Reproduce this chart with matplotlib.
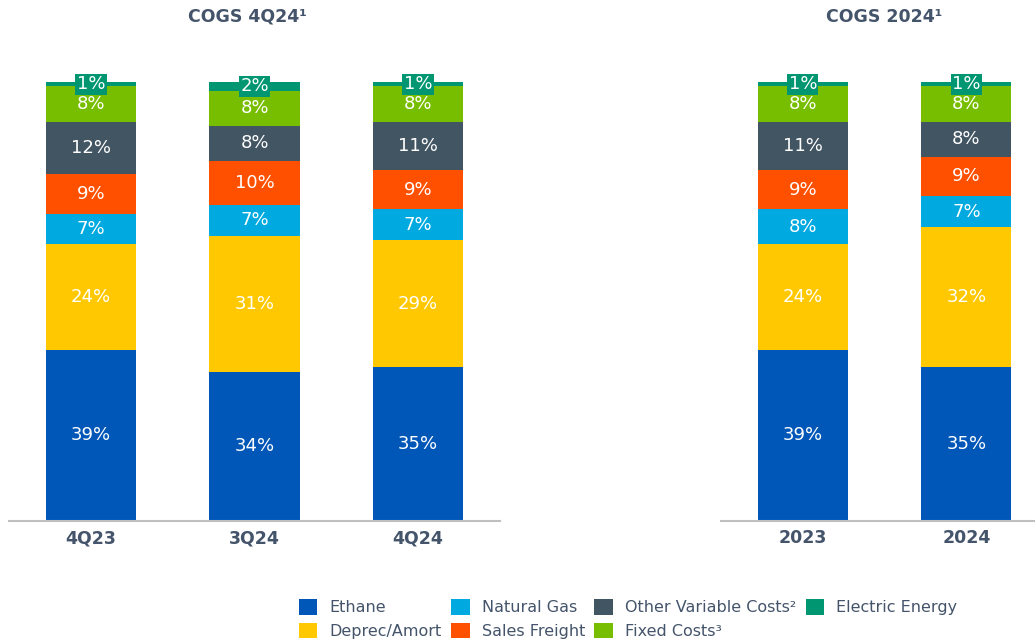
import numpy as np
import matplotlib.pyplot as plt
from matplotlib.patches import Patch

# data (% of COGS)
quarters = ["4Q23", "3Q24", "4Q24"]
years = ["2023", "2024"]

ethane_q = [39, 34, 35]
deprec_q = [24, 31, 29]
natgas_q = [7, 7, 7]
freight_q = [9, 10, 9]
other_q = [12, 8, 11]
fixed_q = [8, 8, 8]
energy_q = [1, 2, 1]

ethane_y = [39, 35]
deprec_y = [24, 32]
natgas_y = [8, 7]
freight_y = [9, 9]
other_y = [11, 8]
fixed_y = [8, 8]
energy_y = [1, 1]

colors = {
    "Ethane": "#0057b8",
    "Deprec/Amort": "#ffc800",
    "Natural Gas": "#00a9e0",
    "Sales Freight": "#ff5000",
    "Other Variable Costs²": "#425563",
    "Fixed Costs³": "#78be00",
    "Electric Energy": "#009672",
}
# stacking order bottom -> top
stack = ["Ethane", "Deprec/Amort", "Natural Gas", "Sales Freight",
         "Other Variable Costs²", "Fixed Costs³", "Electric Energy"]
text_col = "#44546a"

W, H = 1035, 643
fig = plt.figure(figsize=(W / 100, H / 100), dpi=100)


def px_axes(x0, x1, y_top, y_bot):
    return fig.add_axes([x0 / W, (H - y_bot) / H, (x1 - x0) / W, (y_bot - y_top) / H])


def draw(ax, cats, vals, xlim):
    x = np.arange(len(cats))
    bottom = np.zeros(len(cats))
    for name in stack:
        v = np.array(vals[name], dtype=float)
        ax.bar(x, v, bottom=bottom, width=0.55, color=colors[name], edgecolor="none")
        for xi, b, vi in zip(x, bottom, v):
            if name == "Electric Energy":
                ax.text(xi, b + vi / 2, f"{int(vi)}%", ha="center", va="center",
                        color="white", fontsize=13,
                        bbox=dict(boxstyle="square,pad=0.08", fc=colors[name], ec="none"))
            else:
                ax.text(xi, b + vi / 2, f"{int(vi)}%", ha="center", va="center",
                        color="white", fontsize=13)
        bottom += v
    ax.set_xlim(*xlim)
    ax.set_ylim(0, 100)
    ax.set_xticks(x)
    ax.set_xticklabels(cats, fontsize=12.5, fontweight="bold", color=text_col)
    ax.tick_params(axis="x", length=0, pad=6)
    ax.set_yticks([])
    for s in ["top", "left", "right"]:
        ax.spines[s].set_visible(False)
    ax.spines["bottom"].set_color("#bfbfbf")
    ax.spines["bottom"].set_linewidth(1.5)


ax1 = px_axes(9, 500, 82, 521)
draw(ax1, quarters, {
    "Ethane": ethane_q, "Deprec/Amort": deprec_q, "Natural Gas": natgas_q,
    "Sales Freight": freight_q, "Other Variable Costs²": other_q,
    "Fixed Costs³": fixed_q, "Electric Energy": energy_q}, (-0.5, 2.5))

ax2 = px_axes(721, 1035, 82, 521)
draw(ax2, years, {
    "Ethane": ethane_y, "Deprec/Amort": deprec_y, "Natural Gas": natgas_y,
    "Sales Freight": freight_y, "Other Variable Costs²": other_y,
    "Fixed Costs³": fixed_y, "Electric Energy": energy_y}, (-0.5, 1.42))

fig.text(247 / W, 1 - 17 / H, "COGS 4Q24¹", ha="center", va="center",
         fontsize=12.5, fontweight="bold", color=text_col)
fig.text(884 / W, 1 - 17 / H, "COGS 2024¹", ha="center", va="center",
         fontsize=12.5, fontweight="bold", color=text_col)

legend_order = ["Ethane", "Deprec/Amort", "Natural Gas", "Sales Freight",
                "Other Variable Costs²", "Fixed Costs³", "Electric Energy"]
handles = [Patch(facecolor=colors[n], edgecolor="none") for n in legend_order]
leg = fig.legend(handles, legend_order, ncol=4, loc="upper left",
                 bbox_to_anchor=(299 / W, 1 - 599 / H), frameon=False,
                 fontsize=11.5, handlelength=1.15, handleheight=1.15,
                 handletextpad=0.75, columnspacing=0.6, labelspacing=0.45,
                 borderaxespad=0, borderpad=0)
for t in leg.get_texts():
    t.set_color(text_col)

fig.savefig("out.png", dpi=100)
